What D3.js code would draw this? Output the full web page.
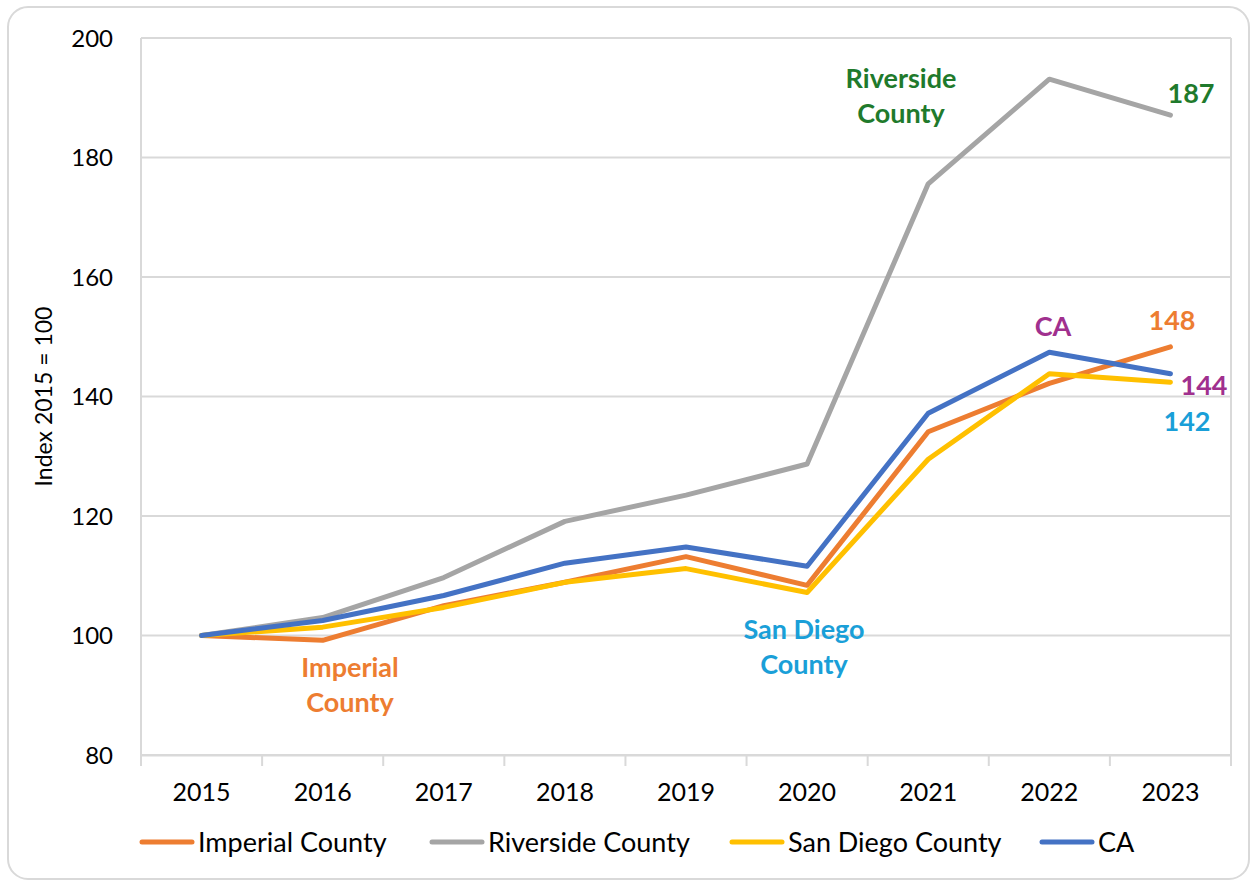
<!DOCTYPE html>
<html>
<head>
<meta charset="utf-8">
<script src="https://d3js.org/d3.v7.min.js"></script>
<style>
  body { margin: 0; background: #fff; font-family: Lato, "Open Sans", sans-serif; }
</style>
</head>
<body>
<div id="chart"></div>
<script>
// data
var years = ["2015", "2016", "2017", "2018", "2019", "2020", "2021", "2022", "2023"];
var imperial  = [100, 99.2, 105.0, 108.9, 113.2, 108.4, 134.1, 142.2, 148.3];
var riverside = [100, 103.0, 109.7, 119.1, 123.5, 128.7, 175.6, 193.1, 187.1];
var sanDiego  = [100, 101.4, 104.7, 108.9, 111.2, 107.2, 129.5, 143.8, 142.4];
var caState   = [100, 102.5, 106.7, 112.1, 114.8, 111.6, 137.2, 147.4, 143.8];
var yTicks = [80, 100, 120, 140, 160, 180, 200];

var series = [
  {name: "Imperial County", values: imperial, color: "#ED7D31"},
  {name: "Riverside County", values: riverside, color: "#A5A5A5"},
  {name: "San Diego County", values: sanDiego, color: "#FFC000"},
  {name: "CA", values: caState, color: "#4472C4"}
];

var W = 1255, H = 884;
var margin = {top: 38, right: 24, bottom: 129, left: 141};

var svg = d3.select("#chart").append("svg")
    .attr("width", W).attr("height", H);

// outer frame
svg.append("rect")
    .attr("x", 8).attr("y", 7)
    .attr("width", W - 14).attr("height", H - 12)
    .attr("rx", 20)
    .attr("fill", "#fff").attr("stroke", "#d9d9d9").attr("stroke-width", 2);

var x = d3.scaleBand().domain(years).range([margin.left, W - margin.right]);
var y = d3.scaleLinear().domain([80, 200]).range([H - margin.bottom, margin.top]);

// gridlines
svg.append("g").selectAll("line").data(yTicks).join("line")
    .attr("x1", margin.left).attr("x2", W - margin.right)
    .attr("y1", d => y(d)).attr("y2", d => y(d))
    .attr("stroke", "#d9d9d9").attr("stroke-width", 2);

// plot area side lines
svg.append("line")
    .attr("x1", margin.left).attr("x2", margin.left)
    .attr("y1", y(200)).attr("y2", y(80))
    .attr("stroke", "#d9d9d9").attr("stroke-width", 2);
svg.append("line")
    .attr("x1", W - margin.right).attr("x2", W - margin.right)
    .attr("y1", y(200)).attr("y2", y(80))
    .attr("stroke", "#d9d9d9").attr("stroke-width", 2);

// y axis labels
svg.append("g").selectAll("text").data(yTicks).join("text")
    .attr("x", 113).attr("y", d => y(d))
    .attr("dy", "0.36em")
    .attr("text-anchor", "end")
    .attr("font-size", 24).attr("fill", "#000")
    .text(d => d);

// x axis with tick marks between categories
var xAxis = svg.append("g")
    .attr("transform", "translate(0," + y(80) + ")")
    .call(d3.axisBottom(x).tickSize(0).tickPadding(28));
xAxis.select(".domain").attr("stroke", "#d9d9d9").attr("stroke-width", 2);
xAxis.selectAll("text").attr("font-size", 25).attr("font-family", "Lato, sans-serif").attr("fill", "#000");
svg.append("g").selectAll("line")
    .data(years.concat(["end"])).join("line")
    .attr("x1", (d, i) => margin.left + i * x.step())
    .attr("x2", (d, i) => margin.left + i * x.step())
    .attr("y1", y(80)).attr("y2", y(80) + 11)
    .attr("stroke", "#d9d9d9").attr("stroke-width", 2);

// y title
svg.append("text")
    .attr("transform", "translate(52," + ((y(80) + y(200)) / 2) + ") rotate(-90)")
    .attr("text-anchor", "middle")
    .attr("font-size", 23).attr("fill", "#000")
    .text("Index 2015 = 100");

// lines
var line = d3.line()
    .x((d, i) => x(years[i]) + x.bandwidth() / 2)
    .y(d => y(d));

svg.append("g").selectAll("path").data(series).join("path")
    .attr("d", d => line(d.values))
    .attr("fill", "none")
    .attr("stroke", d => d.color)
    .attr("stroke-width", 5)
    .attr("stroke-linejoin", "round")
    .attr("stroke-linecap", "round");

// annotations
var notes = [
  {lines: ["Riverside", "County"], x: 901, y: 78, color: "#1F7A2C"},
  {lines: ["187"], x: 1191, y: 93, color: "#1F7A2C"},
  {lines: ["CA"], x: 1053, y: 326, color: "#A0308E"},
  {lines: ["148"], x: 1172, y: 320, color: "#ED7D31"},
  {lines: ["144"], x: 1204, y: 385, color: "#A0308E"},
  {lines: ["142"], x: 1187, y: 421, color: "#1A9FD8"},
  {lines: ["San Diego", "County"], x: 804, y: 629, color: "#1A9FD8"},
  {lines: ["Imperial", "County"], x: 350, y: 667, color: "#ED7D31"}
];
notes.forEach(function (n) {
  var t = svg.append("text")
      .attr("text-anchor", "middle")
      .attr("font-size", 27).attr("font-weight", "bold")
      .attr("fill", n.color);
  n.lines.forEach(function (s, i) {
    t.append("tspan").attr("x", n.x).attr("y", n.y + i * 35).attr("dy", "0.36em").text(s);
  });
});

// legend
var legendX = [140, 430, 730, 1040];
var leg = svg.append("g").selectAll("g").data(series).join("g")
    .attr("transform", (d, i) => "translate(" + legendX[i] + ",842)");
leg.append("line")
    .attr("x1", 2).attr("x2", 52)
    .attr("stroke", d => d.color).attr("stroke-width", 5)
    .attr("stroke-linecap", "round");
leg.append("text")
    .attr("x", 58).attr("dy", "0.36em")
    .attr("font-size", 27).attr("fill", "#000")
    .text(d => d.name);
</script>
</body>
</html>
